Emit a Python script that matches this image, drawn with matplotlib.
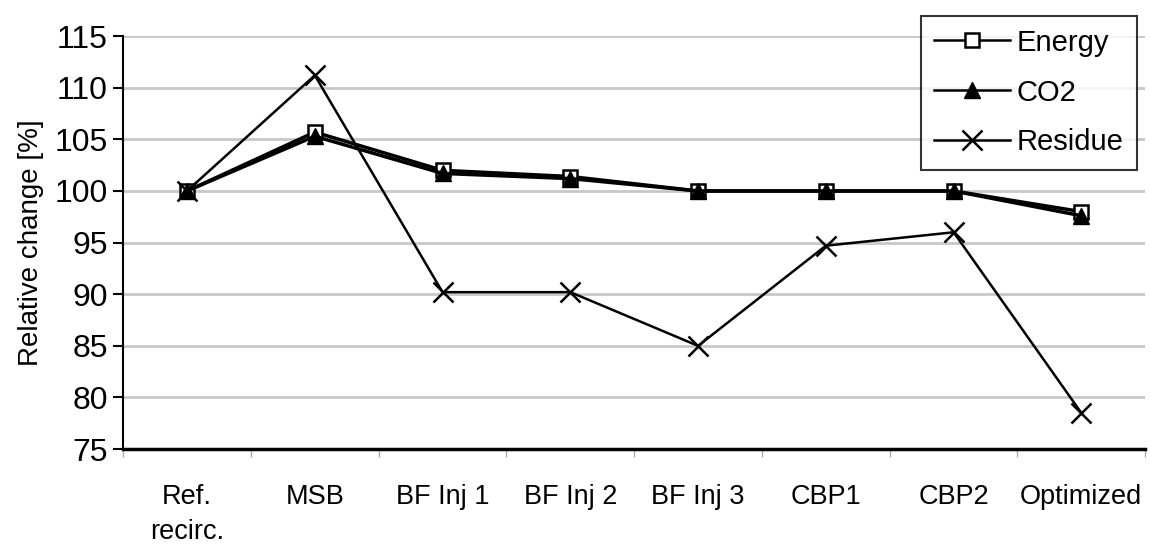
import matplotlib
matplotlib.use("Agg")
import matplotlib.pyplot as plt
import numpy as np

plt.rcParams['font.family'] = ['Liberation Sans', 'DejaVu Sans']

categories = ["Ref.\nrecirc.", "MSB", "BF Inj 1", "BF Inj 2", "BF Inj 3", "CBP1", "CBP2", "Optimized"]
energy = [100, 105.7, 102.0, 101.4, 100.0, 100.0, 100.0, 98.0]
co2 = [100, 105.3, 101.7, 101.2, 100.0, 100.0, 100.0, 97.6]
residue = [100, 111.2, 90.2, 90.2, 85.0, 94.7, 96.0, 78.5]

x = np.arange(len(categories))

fig = plt.figure(figsize=(11.51, 5.47), dpi=100)
ax = fig.add_axes([0.107, 0.179, 0.888, 0.755])

ax.plot(x, energy, color="black", lw=2.5, marker="s", ms=10, mfc="white", mec="black", mew=1.8, label="Energy", zorder=3)
ax.plot(x, co2, color="black", lw=2.5, marker="^", ms=11, mfc="black", mec="black", label="CO2", zorder=4)
ax.plot(x, residue, color="black", lw=1.8, marker="x", ms=14, mew=1.8, label="Residue", zorder=3)

ax.set_xlim(-0.5, len(categories) - 0.5)
ax.set_ylim(75, 115)
ax.set_yticks(np.arange(75, 116, 5))
ax.yaxis.grid(True, color="#c8c8c8", lw=2)
ax.set_axisbelow(True)

ax.set_xticks(x)
ax.set_xticklabels(categories, fontsize=19.5, linespacing=1.45, va="top")
ax.set_xticks(np.arange(-0.5, len(categories), 1), minor=True)
ax.tick_params(axis="x", which="major", length=0, pad=25)
ax.tick_params(axis="x", which="minor", length=6, width=1, color="#aaaaaa")
ax.tick_params(axis="y", labelsize=23, length=7, width=1.5, direction="out", pad=4)

for s in ["top", "right"]:
    ax.spines[s].set_visible(False)
ax.spines["left"].set_linewidth(1.5)
ax.spines["bottom"].set_linewidth(2.5)

ax.set_ylabel("Relative change [%]", fontsize=20, labelpad=8)

leg = ax.legend(loc="upper right", bbox_to_anchor=(1.006, 1.085), fontsize=21, frameon=True,
                fancybox=False, edgecolor="black", handlelength=2.6, borderpad=0.45, labelspacing=0.75,
                handletextpad=0.25)
leg.get_frame().set_linewidth(1.5)
for h in leg.legend_handles:
    h.set_linewidth(1.8)

fig.savefig("out.png", dpi=100)
